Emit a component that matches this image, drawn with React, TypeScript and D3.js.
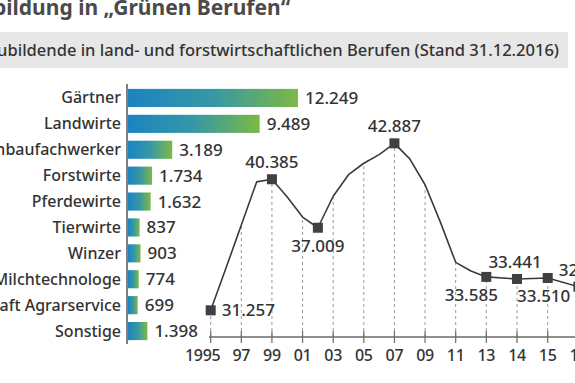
import React from "react";
import * as d3 from "d3";

const W = 575;
const H = 383;

const titleText = "Ausbildung in \u201EGrünen Berufen\u201C";
const subtitleText = "Auszubildende in land- und forstwirtschaftlichen Berufen (Stand 31.12.2016)";

const categories = [
  "Gärtner",
  "Landwirte",
  "Gartenbaufachwerker",
  "Forstwirte",
  "Pferdewirte",
  "Tierwirte",
  "Winzer",
  "Milchtechnologe",
  "Fachkraft Agrarservice",
  "Sonstige",
];
const categoryValues = [12249, 9489, 3189, 1734, 1632, 837, 903, 774, 699, 1398];

const years = [
  1995, 1996, 1997, 1998, 1999, 2000, 2001, 2002, 2003, 2004, 2005,
  2006, 2007, 2008, 2009, 2010, 2011, 2012, 2013, 2014, 2015, 2016,
];
const apprentices = [
  31257, 34200, 37200, 40200, 40385, 39150, 37750, 37009, 39200, 40700, 41500,
  42100, 42887, 41800, 40000, 37400, 34600, 34000, 33585, 33441, 33510, 32902,
];
const markedYears = [1995, 1999, 2002, 2007, 2013, 2014, 2015, 2016];
const labelSides = ["right", "above", "below", "above", "below", "above", "below", "above"];
const tickYears = [1995, 1997, 1999, 2001, 2003, 2005, 2007, 2009, 2011, 2013, 2014, 2015, 2016];

const FONT = "'Noto Sans', 'Open Sans', sans-serif";
const TEXT = "#333333";

const de = d3.formatLocale({ decimal: ",", thousands: ".", grouping: [3], currency: ["", "€"] });
const fmt = de.format(",");

// label nudges (style only)
const labelNudge: Record<number, number> = { 2013: -15, 2015: -4, 2016: 7, 2014: -2 };

export default function App() {
  // bar chart scales
  const yBand = d3.scaleBand<string>().domain(categories).range([85, 344]).paddingInner(0.3).paddingOuter(0.15);
  const xBar = d3.scaleLinear().domain([0, 12000]).range([128, 294.5]);

  // line chart scales
  const xYear = d3.scaleLinear().domain([1995, 2013, 2016]).range([210.7, 486.3, 578.4]);
  const yVal = d3.scaleLinear().domain([29400, 43000]).range([337, 141.7]);
  const axisY = yVal(29400);

  const pts = years.map((yr, i) => [xYear(yr), yVal(apprentices[i])] as [number, number]);
  const linePath = d3.line()(pts) || "";
  const valueAt = (yr: number) => apprentices[years.indexOf(yr)];

  return (
    <svg width={W} height={H} style={{ position: "absolute", left: 0, top: 0, background: "#fff" }} fontFamily={FONT}>
      <defs>
        <linearGradient id="barGrad" x1="0" x2="1" y1="0" y2="0">
          <stop offset="0%" stopColor="#1c83c2" />
          <stop offset="50%" stopColor="#3698a5" />
          <stop offset="100%" stopColor="#7cb944" />
        </linearGradient>
      </defs>
      <rect x={0} y={0} width={W} height={H} fill="#ffffff" />

      {/* title */}
      <text x={290} y={15} textAnchor="end" fontSize={21} fontWeight={700} fill="#4a4a4a">
        {titleText}
      </text>

      {/* subtitle band */}
      <rect x={0} y={32} width={568} height={36} fill="#e6e7e6" />
      <text x={559} y={56} textAnchor="end" fontSize={16.5} fontWeight={500} fill={TEXT}>
        {subtitleText}
      </text>

      {/* bars */}
      {categories.map((c, i) => {
        const y0 = yBand(c) as number;
        const bw = yBand.bandwidth();
        const x1 = xBar(categoryValues[i]);
        const cy = y0 + bw / 2;
        return (
          <g key={c}>
            <rect x={xBar(0)} y={y0} width={x1 - xBar(0)} height={bw} fill="url(#barGrad)" />
            <text x={121} y={cy + 5.5} textAnchor="end" fontSize={16} fontWeight={500} fill={TEXT}>
              {c}
            </text>
            <text x={x1 + 7} y={cy + 6} fontSize={17} fontWeight={500} fill={TEXT}>
              {fmt(categoryValues[i])}
            </text>
          </g>
        );
      })}
      <line x1={127} x2={127} y1={84} y2={344} stroke="#555" strokeWidth={1.5} />

      {/* dashed guides */}
      {tickYears.map((yr) => (
        <line
          key={"g" + yr}
          x1={xYear(yr)}
          x2={xYear(yr)}
          y1={axisY}
          y2={yVal(valueAt(yr))}
          stroke="#9a9a9a"
          strokeWidth={1}
          strokeDasharray="3,3"
        />
      ))}

      {/* axis */}
      <line x1={209} x2={W} y1={axisY} y2={axisY} stroke="#6a6a6a" strokeWidth={1.5} />
      {tickYears.map((yr) => (
        <g key={"t" + yr}>
          <line x1={xYear(yr)} x2={xYear(yr)} y1={axisY - 6} y2={axisY + 6} stroke="#6a6a6a" strokeWidth={1.2} />
          <text
            x={xYear(yr) + (yr === 1995 ? -8 : 0)}
            y={axisY + 24}
            textAnchor="middle"
            fontSize={16}
            fontWeight={500}
            letterSpacing={-0.3}
            fill={TEXT}
          >
            {yr === 1995 ? "1995" : String(yr % 100).padStart(2, "0")}
          </text>
        </g>
      ))}

      {/* line */}
      <path d={linePath} fill="none" stroke="#3a3a3a" strokeWidth={1.6} strokeLinejoin="round" />

      {/* markers + labels */}
      {markedYears.map((yr, i) => {
        const x = xYear(yr);
        const y = yVal(valueAt(yr));
        const side = labelSides[i];
        const nudge = labelNudge[yr] || 0;
        let tx = x + nudge;
        let ty = y;
        let anchor: "start" | "middle" = "middle";
        if (side === "right") {
          tx = x + 11;
          ty = y + 6;
          anchor = "start";
        } else if (side === "above") {
          ty = y - 11;
        } else {
          ty = y + 24;
        }
        return (
          <g key={"m" + yr}>
            <rect x={x - 5} y={y - 5} width={10} height={10} fill="#404040" />
            <text x={tx} y={ty} textAnchor={anchor} fontSize={17} fontWeight={500} fill={TEXT}>
              {fmt(valueAt(yr))}
            </text>
          </g>
        );
      })}
    </svg>
  );
}
